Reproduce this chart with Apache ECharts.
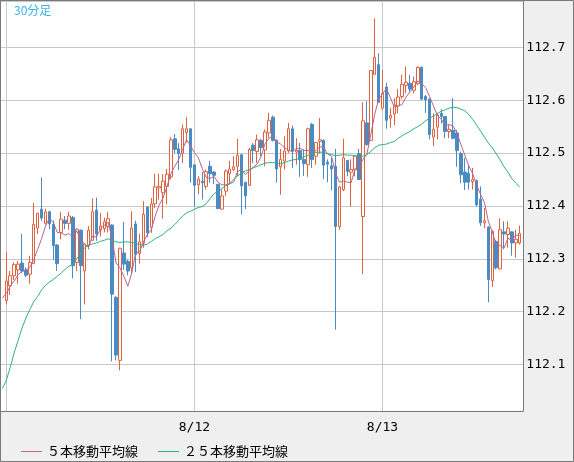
<!DOCTYPE html>
<html><head><meta charset="utf-8">
<script src="https://cdn.jsdelivr.net/npm/echarts@6/dist/echarts.min.js"></script>
<style>html,body{margin:0;padding:0;background:#efefef}#c{width:574px;height:462px}</style>
</head><body><div id="c"></div>
<script>
// 30-minute bars, bar 0 = 8/11 00:00
const opens = [112.221,112.249,112.268,112.279,112.292,112.279,112.271,112.291,112.358,112.394,
112.367,112.389,112.365,112.326,112.350,112.373,112.367,112.378,112.293,112.354,
112.277,112.326,112.335,112.392,112.355,112.357,112.361,112.364,112.227,112.108,
112.311,112.295,112.283,112.366,112.310,112.330,112.398,112.360,112.404,112.434,
112.425,112.437,112.455,112.527,112.508,112.500,112.539,112.546,112.478,112.440,
112.447,112.437,112.475,112.464,112.441,112.394,112.428,112.461,112.469,112.475,
112.497,112.445,112.439,112.515,112.503,112.524,112.506,112.538,112.568,112.524,
112.474,112.485,112.504,112.546,112.502,112.505,112.488,112.478,112.554,112.494,
112.522,112.524,112.483,112.476,112.475,112.361,112.431,112.486,112.464,112.468,
112.499,112.380,112.557,112.524,112.649,112.667,112.585,112.625,112.566,112.574,
112.589,112.607,112.628,112.632,112.619,112.631,112.662,112.607,112.602,112.530,
112.549,112.575,112.569,112.541,112.543,112.538,112.499,112.464,112.462,112.446,
112.448,112.413,112.368,112.360,112.259,112.333,112.281,112.351,112.346,112.351,
112.330,112.330];
const closes = [112.258,112.268,112.289,112.290,112.277,112.269,112.293,112.365,112.386,112.377,
112.389,112.366,112.325,112.291,112.375,112.367,112.381,112.287,112.356,112.287,
112.328,112.354,112.389,112.347,112.362,112.370,112.376,112.233,112.118,112.320,
112.290,112.277,112.358,112.308,112.332,112.384,112.349,112.404,112.436,112.437,
112.447,112.460,112.525,112.507,112.499,112.546,112.546,112.473,112.439,112.451,
112.444,112.465,112.461,112.458,112.395,112.419,112.466,112.470,112.474,112.496,
112.438,112.419,112.507,112.505,112.525,112.510,112.540,112.562,112.524,112.470,
112.488,112.504,112.546,112.504,112.505,112.488,112.480,112.546,112.488,112.520,
112.525,112.477,112.479,112.470,112.361,112.436,112.491,112.465,112.469,112.494,
112.450,112.561,112.516,112.656,112.681,112.596,112.613,112.562,112.571,112.591,
112.606,112.630,112.634,112.621,112.635,112.662,112.602,112.601,112.535,112.545,
112.572,112.569,112.541,112.545,112.528,112.505,112.459,112.445,112.445,112.450,
112.402,112.368,112.372,112.261,112.352,112.283,112.355,112.347,112.358,112.330,
112.337,112.348];
const lows = [112.214,112.232,112.260,112.253,112.273,112.265,112.253,112.290,112.347,112.372,
112.365,112.356,112.298,112.277,112.337,112.356,112.355,112.263,112.277,112.186,
112.214,112.318,112.334,112.334,112.342,112.350,112.350,112.106,112.108,112.089,
112.279,112.269,112.272,112.275,112.291,112.321,112.341,112.349,112.396,112.412,
112.376,112.403,112.450,112.500,112.468,112.481,112.520,112.444,112.399,112.422,
112.412,112.431,112.444,112.441,112.394,112.394,112.419,112.441,112.466,112.456,
112.384,112.394,112.438,112.481,112.481,112.494,112.475,112.529,112.522,112.444,
112.421,112.469,112.500,112.472,112.478,112.455,112.457,112.455,112.472,112.478,
112.499,112.451,112.445,112.430,112.166,112.355,112.428,112.456,112.399,112.456,
112.450,112.271,112.514,112.524,112.648,112.595,112.582,112.546,112.548,112.553,
112.575,112.602,112.613,112.616,112.613,112.629,112.601,112.576,112.526,112.513,
112.526,112.556,112.528,112.528,112.526,112.474,112.443,112.430,112.431,112.431,
112.399,112.362,112.358,112.218,112.247,112.280,112.280,112.318,112.321,112.306,
112.302,112.327];
const highs = [112.312,112.277,112.293,112.296,112.347,112.284,112.306,112.406,112.387,112.454,
112.395,112.391,112.372,112.328,112.389,112.381,112.389,112.381,112.358,112.356,
112.329,112.362,112.414,112.416,112.387,112.378,112.389,112.365,112.230,112.321,
112.370,112.299,112.390,112.372,112.347,112.409,112.399,112.415,112.461,112.461,
112.460,112.470,112.530,112.536,112.519,112.554,112.568,112.546,112.478,112.456,
112.464,112.469,112.485,112.466,112.441,112.431,112.469,112.485,112.494,112.527,
112.497,112.445,112.510,112.519,112.535,112.527,112.545,112.576,112.571,112.526,
112.508,112.532,112.557,112.552,112.528,112.519,112.507,112.548,112.557,112.520,
112.566,112.526,112.488,112.491,112.508,112.438,112.527,112.486,112.488,112.495,
112.508,112.596,112.598,112.657,112.755,112.689,112.657,112.633,112.585,112.604,
112.621,112.648,112.664,112.648,112.645,112.664,112.664,112.610,112.604,112.575,
112.575,112.583,112.570,112.553,112.604,112.544,112.503,112.491,112.478,112.472,
112.450,112.437,112.396,112.362,112.354,112.336,112.377,112.371,112.371,112.352,
112.355,112.363];
// moving averages, first value belongs to bar -1 (off the left edge)
const ma5 = [112.226,112.235,112.248,112.258,112.270,112.276,112.279,112.284,112.299,112.318,
112.338,112.362,112.377,112.369,112.350,112.349,112.345,112.348,112.340,112.353,
112.336,112.328,112.322,112.343,112.341,112.356,112.364,112.369,112.338,112.292,
112.283,112.267,112.248,112.273,112.311,112.313,112.332,112.346,112.355,112.381,
112.402,112.415,112.437,112.461,112.475,112.488,112.507,112.525,112.514,112.501,
112.491,112.471,112.454,112.452,112.456,112.445,112.440,112.440,112.442,112.445,
112.465,112.469,112.459,112.467,112.473,112.479,112.493,112.517,112.528,112.532,
112.521,112.517,112.510,112.506,112.502,112.509,112.509,112.505,112.505,112.501,
112.504,112.512,112.511,112.498,112.494,112.462,112.445,112.447,112.445,112.444,
112.471,112.474,112.488,112.498,112.535,112.573,112.602,112.612,112.622,112.605,
112.587,112.589,112.592,112.606,112.616,112.625,112.636,112.631,112.624,112.607,
112.589,112.571,112.564,112.552,112.554,112.551,112.538,112.516,112.496,112.476,
112.461,112.440,112.422,112.407,112.371,112.351,112.327,112.325,112.320,112.339,
112.335,112.345,112.344];
const ma25 = [112.055,112.070,112.095,112.122,112.145,112.169,112.188,112.204,112.219,112.229,
112.241,112.250,112.256,112.261,112.267,112.273,112.280,112.286,112.290,112.300,
112.311,112.321,112.326,112.328,112.330,112.333,112.335,112.338,112.335,112.332,
112.331,112.332,112.332,112.331,112.329,112.327,112.326,112.328,112.333,112.338,
112.342,112.346,112.353,112.358,112.365,112.373,112.381,112.387,112.390,112.394,
112.397,112.399,112.404,112.414,112.423,112.428,112.433,112.438,112.442,112.450,
112.457,112.462,112.466,112.469,112.472,112.475,112.478,112.481,112.482,112.482,
112.481,112.480,112.482,112.485,112.487,112.488,112.490,112.493,112.496,112.498,
112.501,112.502,112.501,112.499,112.497,112.495,112.496,112.497,112.496,112.496,
112.495,112.495,112.494,112.497,112.503,112.510,112.515,112.516,112.517,112.520,
112.522,112.528,112.533,112.537,112.541,112.546,112.550,112.555,112.561,112.566,
112.570,112.575,112.579,112.582,112.585,112.587,112.586,112.583,112.580,112.573,
112.564,112.553,112.542,112.530,112.519,112.510,112.499,112.487,112.474,112.464,
112.452,112.443,112.436];
const dayBars = [0, 48, 96];
const dayLabels = ['8/11', '8/12', '8/13'];
const seriesNames = ['５本移動平均線', '２５本移動平均線'];
const title = '30分足';

const candleData = opens.map((o, i) => [i, o, closes[i], lows[i], highs[i]]);
const ma5Data = ma5.map((v, k) => [k - 1, v]);
const ma25Data = ma25.map((v, k) => [k - 1, v]);

const chart = echarts.init(document.getElementById('c'));
const mono = '"DejaVu Sans Mono", monospace';
const cjk = '"Noto Sans CJK JP", sans-serif';
chart.setOption({
  animation: false,
  backgroundColor: '#efefef',
  grid: { left: 1, top: 1, right: 50.7, bottom: 50.3, containLabel: false },
  xAxis: {
    type: 'value', min: -1.352, max: 131.92,
    axisLine: { show: false }, axisTick: { show: false }, splitLine: { show: false },
    axisLabel: {
      customValues: [dayBars[1], dayBars[2]],
      formatter: v => dayLabels[dayBars.indexOf(Math.round(v))] || '',
      margin: 9, color: '#000', fontFamily: mono, fontSize: 13
    }
  },
  yAxis: {
    type: 'value', position: 'right', min: 112.0109, max: 112.7876, splitNumber: 7,
    axisLine: { show: false }, axisTick: { show: false },
    splitLine: { lineStyle: { color: '#c8c8c8', width: 1 } },
    axisLabel: {
      showMinLabel: false, showMaxLabel: false, margin: 3,
      formatter: v => v.toFixed(1), color: '#000', fontFamily: mono, fontSize: 13
    }
  },
  legend: {
    data: seriesNames, left: 16, top: 440, itemWidth: 21, itemHeight: 1, itemGap: 20,
    icon: 'rect', selectedMode: false,
    textStyle: { fontFamily: cjk, fontSize: 13, color: '#000' }
  },
  graphic: [
    { type: 'rect', z: -10, silent: true, shape: { x: 1, y: 1, width: 522.3, height: 410.7 }, style: { fill: '#ffffff' } },
    { type: 'rect', z: 100, silent: true, shape: { x: 0.5, y: 0.5, width: 523, height: 411 }, style: { fill: null, stroke: '#7a7a7a', lineWidth: 1 } },
    { type: 'rect', z: 100, silent: true, shape: { x: 0.5, y: 0.5, width: 573, height: 461 }, style: { fill: null, stroke: '#7a7a7a', lineWidth: 1 } },
    { type: 'text', z: 100, left: 14, top: 4, style: { text: title, fill: '#33b4ea', font: '12px "Noto Sans CJK JP", sans-serif' } }
  ],
  series: [
    {
      type: 'candlestick', name: 'price', data: candleData, barWidth: 3,
      encode: { x: 0, y: [1, 2, 3, 4] },
      itemStyle: { color: '#ffffff', color0: '#4b8bc4', borderColor: '#e0623f', borderColor0: '#4b8bc4', borderWidth: 1 },
      markLine: {
        silent: true, symbol: 'none', z: 1, label: { show: false },
        lineStyle: { color: '#c8c8c8', width: 1, type: 'solid' },
        data: dayBars.map(d => ({ xAxis: d }))
      }
    },
    {
      type: 'line', name: seriesNames[0], data: ma5Data, symbol: 'none', z: 3,
      lineStyle: { color: '#b9648b', width: 1 }, itemStyle: { color: '#c46a90' }
    },
    {
      type: 'line', name: seriesNames[1], data: ma25Data, symbol: 'none', z: 3,
      lineStyle: { color: '#2db37a', width: 1 }, itemStyle: { color: '#2db37a' }
    }
  ]
});
</script></body></html>
